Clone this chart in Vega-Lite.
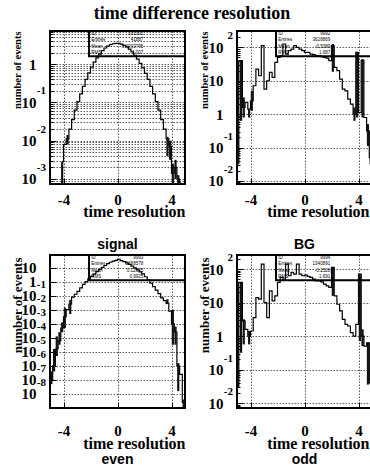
{
  "$schema": "https://vega.github.io/schema/vega-lite/v6.json",
  "background": "white",
  "padding": {"left": 9, "top": 5, "right": 0, "bottom": 0},
  "title": {"text": "time difference resolution", "font": "Liberation Serif", "fontWeight": "bold", "fontSize": 18, "color": "black", "anchor": "middle", "offset": 0},
  "config": {
    "view": {"stroke": "black", "strokeWidth": 2},
    "axis": {"labelFont": "Liberation Serif", "labelFontWeight": "bold", "labelColor": "black", "labelFontSize": 15, "titleFont": "Liberation Serif", "titleFontWeight": "bold", "titleColor": "black", "titleFontSize": 16, "domain": false, "grid": true, "gridColor": "#333", "gridDash": [1.5, 1.5], "gridWidth": 0.8, "tickColor": "black", "tickWidth": 1, "labelOverlap": false}
  },
  "datasets": {
    "signal": [
      {"x": -4.1, "n": 0.00282, "lo": 0.0007, "hi": 0.00282},
      {"x": -3.9, "n": 0.00794},
      {"x": -3.7, "n": 0.0112, "lo": 0.00794, "hi": 0.0141},
      {"x": -3.5, "n": 0.02},
      {"x": -3.3, "n": 0.0355},
      {"x": -3.1, "n": 0.0631},
      {"x": -2.9, "n": 0.105},
      {"x": -2.7, "n": 0.166},
      {"x": -2.5, "n": 0.263},
      {"x": -2.3, "n": 0.398},
      {"x": -2.1, "n": 0.589},
      {"x": -1.9, "n": 0.832},
      {"x": -1.7, "n": 1.122},
      {"x": -1.5, "n": 1.445},
      {"x": -1.3, "n": 1.82},
      {"x": -1.1, "n": 2.239},
      {"x": -0.9, "n": 2.63},
      {"x": -0.7, "n": 2.951},
      {"x": -0.5, "n": 3.236},
      {"x": -0.3, "n": 3.388},
      {"x": -0.1, "n": 3.467},
      {"x": 0.1, "n": 3.467},
      {"x": 0.3, "n": 3.311},
      {"x": 0.5, "n": 3.09},
      {"x": 0.7, "n": 2.818},
      {"x": 0.9, "n": 2.455},
      {"x": 1.1, "n": 2.089},
      {"x": 1.3, "n": 1.698},
      {"x": 1.5, "n": 1.349},
      {"x": 1.7, "n": 1.047},
      {"x": 1.9, "n": 0.794},
      {"x": 2.1, "n": 0.575},
      {"x": 2.3, "n": 0.398},
      {"x": 2.5, "n": 0.263},
      {"x": 2.7, "n": 0.166},
      {"x": 2.9, "n": 0.105},
      {"x": 3.1, "n": 0.0631},
      {"x": 3.3, "n": 0.0355},
      {"x": 3.5, "n": 0.02},
      {"x": 3.7, "n": 0.0112, "lo": 0.00398, "hi": 0.0126},
      {"x": 3.9, "n": 0.00708, "lo": 0.00316, "hi": 0.01},
      {"x": 4.1, "n": 0.00141, "lo": 0.0007, "hi": 0.00251},
      {"x": 4.3, "n": 0.002, "lo": 0.001, "hi": 0.00316},
      {"x": 4.5, "n": 0.001, "lo": 0.0007, "hi": 0.00126},
      {"x": 4.7, "n": 0.000794}
    ],
    "bg": [
      {"x": -4.9, "n": 39.8, "lo": 0.0316, "hi": 39.8},
      {"x": -4.7, "n": 39.8, "lo": 0.631, "hi": 39.8},
      {"x": -4.5, "n": 1.585, "lo": 0.794, "hi": 3.16},
      {"x": -4.3, "n": 2.239},
      {"x": -4.1, "n": 1.413, "lo": 0.794, "hi": 1.413},
      {"x": -3.9, "n": 2.512, "lo": 1.259, "hi": 5.01},
      {"x": -3.7, "n": 7.08},
      {"x": -3.5, "n": 22.4},
      {"x": -3.3, "n": 14.1},
      {"x": -3.1, "n": 112},
      {"x": -2.9, "n": 5.62},
      {"x": -2.7, "n": 10},
      {"x": -2.5, "n": 17.8},
      {"x": -2.3, "n": 12.6},
      {"x": -2.1, "n": 35.5},
      {"x": -1.9, "n": 50.1},
      {"x": -1.7, "n": 56.2},
      {"x": -1.5, "n": 126},
      {"x": -1.3, "n": 63.1},
      {"x": -1.1, "n": 79.4},
      {"x": -0.9, "n": 89.1},
      {"x": -0.7, "n": 112},
      {"x": -0.5, "n": 100},
      {"x": -0.3, "n": 89.1},
      {"x": -0.1, "n": 79.4},
      {"x": 0.1, "n": 70.8},
      {"x": 0.3, "n": 70.8},
      {"x": 0.5, "n": 63.1},
      {"x": 0.7, "n": 60.3},
      {"x": 0.9, "n": 56.2},
      {"x": 1.1, "n": 56.2},
      {"x": 1.3, "n": 52.5},
      {"x": 1.5, "n": 50.1},
      {"x": 1.7, "n": 47.9},
      {"x": 1.9, "n": 39.8},
      {"x": 2.1, "n": 112, "lo": 18.6, "hi": 126},
      {"x": 2.3, "n": 25.1},
      {"x": 2.5, "n": 20},
      {"x": 2.7, "n": 11.2},
      {"x": 2.9, "n": 5.62},
      {"x": 3.1, "n": 5.01},
      {"x": 3.3, "n": 2.818},
      {"x": 3.5, "n": 1.995},
      {"x": 3.7, "n": 1.0, "lo": 0.631, "hi": 1.585},
      {"x": 3.9, "n": 70.8, "lo": 0.794, "hi": 70.8},
      {"x": 4.1, "n": 1.122},
      {"x": 4.3, "n": 39.8, "lo": 0.794, "hi": 44.7},
      {"x": 4.5, "n": 0.794},
      {"x": 4.7, "n": 0.316, "lo": 0.112, "hi": 0.5},
      {"x": 4.9, "n": 0.0501, "lo": 0.0316, "hi": 0.158}
    ],
    "even": [
      {"x": -4.9, "n": 1e-7, "lo": 5e-8, "hi": 4e-7},
      {"x": -4.7, "n": 1e-6, "lo": 4e-7, "hi": 1.6e-5},
      {"x": -4.5, "n": 1.6e-5, "lo": 5e-6, "hi": 1.26e-4},
      {"x": -4.3, "n": 6.3e-5, "lo": 3.2e-5, "hi": 2.5e-4},
      {"x": -4.1, "n": 5e-4, "lo": 2.5e-4, "hi": 1.26e-3},
      {"x": -3.9, "n": 3.16e-3, "lo": 5e-4, "hi": 1.4e-2},
      {"x": -3.7, "n": 0.01},
      {"x": -3.5, "n": 0.0251, "lo": 0.005, "hi": 0.05},
      {"x": -3.3, "n": 0.0794},
      {"x": -3.1, "n": 0.126},
      {"x": -2.9, "n": 0.2},
      {"x": -2.7, "n": 0.355},
      {"x": -2.5, "n": 0.631},
      {"x": -2.3, "n": 1.0},
      {"x": -2.1, "n": 1.585},
      {"x": -1.9, "n": 2.399},
      {"x": -1.7, "n": 3.548},
      {"x": -1.5, "n": 5.248},
      {"x": -1.3, "n": 7.586},
      {"x": -1.1, "n": 10.47},
      {"x": -0.9, "n": 14.13},
      {"x": -0.7, "n": 19.05},
      {"x": -0.5, "n": 23.99},
      {"x": -0.3, "n": 28.84},
      {"x": -0.1, "n": 33.11},
      {"x": 0.1, "n": 38.9},
      {"x": 0.3, "n": 31.62},
      {"x": 0.5, "n": 26.3},
      {"x": 0.7, "n": 21.38},
      {"x": 0.9, "n": 16.6},
      {"x": 1.1, "n": 12.59},
      {"x": 1.3, "n": 9.55},
      {"x": 1.5, "n": 6.918},
      {"x": 1.7, "n": 5.012},
      {"x": 1.9, "n": 3.548},
      {"x": 2.1, "n": 2.239},
      {"x": 2.3, "n": 1.318},
      {"x": 2.5, "n": 0.794},
      {"x": 2.7, "n": 0.447},
      {"x": 2.9, "n": 0.251},
      {"x": 3.1, "n": 0.141},
      {"x": 3.3, "n": 0.0708},
      {"x": 3.5, "n": 0.0447},
      {"x": 3.7, "n": 0.0282, "lo": 0.0251, "hi": 0.055},
      {"x": 3.9, "n": 0.0079},
      {"x": 4.1, "n": 0.001, "lo": 3.2e-5, "hi": 0.01},
      {"x": 4.3, "n": 2.5e-4, "lo": 3.2e-5, "hi": 6.3e-4},
      {"x": 4.5, "n": 1e-6, "lo": 1.6e-8, "hi": 1.6e-6},
      {"x": 4.7, "n": 2.5e-7},
      {"x": 4.9, "n": 2.5e-9, "lo": 1e-9, "hi": 4e-9}
    ],
    "odd": [
      {"x": -4.9, "n": 39.8, "lo": 0.0282, "hi": 39.8},
      {"x": -4.7, "n": 39.8, "lo": 0.316, "hi": 39.8},
      {"x": -4.5, "n": 2.818, "lo": 0.562, "hi": 3.16},
      {"x": -4.3, "n": 1.585},
      {"x": -4.1, "n": 1.0, "lo": 0.562, "hi": 1.413},
      {"x": -3.9, "n": 1.413},
      {"x": -3.7, "n": 3.548},
      {"x": -3.5, "n": 14.1},
      {"x": -3.3, "n": 12.6},
      {"x": -3.1, "n": 141},
      {"x": -2.9, "n": 10},
      {"x": -2.7, "n": 3.548},
      {"x": -2.5, "n": 22.4},
      {"x": -2.3, "n": 11.2},
      {"x": -2.1, "n": 15.8},
      {"x": -1.9, "n": 39.8},
      {"x": -1.7, "n": 56.2},
      {"x": -1.5, "n": 50.1},
      {"x": -1.3, "n": 141},
      {"x": -1.1, "n": 63.1},
      {"x": -0.9, "n": 79.4},
      {"x": -0.7, "n": 70.8},
      {"x": -0.5, "n": 141},
      {"x": -0.3, "n": 70.8},
      {"x": -0.1, "n": 63.1},
      {"x": 0.1, "n": 66.1},
      {"x": 0.3, "n": 60.3},
      {"x": 0.5, "n": 56.2},
      {"x": 0.7, "n": 50.1},
      {"x": 0.9, "n": 44.7},
      {"x": 1.1, "n": 44.7},
      {"x": 1.3, "n": 41.7},
      {"x": 1.5, "n": 35.5},
      {"x": 1.7, "n": 31.6},
      {"x": 1.9, "n": 28.2},
      {"x": 2.1, "n": 112, "lo": 15.8, "hi": 112},
      {"x": 2.3, "n": 15.8},
      {"x": 2.5, "n": 8.91},
      {"x": 2.7, "n": 5.62},
      {"x": 2.9, "n": 3.162},
      {"x": 3.1, "n": 2.239},
      {"x": 3.3, "n": 1.995},
      {"x": 3.5, "n": 1.259},
      {"x": 3.7, "n": 1.0},
      {"x": 3.9, "n": 2.239},
      {"x": 4.1, "n": 70.8, "lo": 0.708, "hi": 70.8},
      {"x": 4.3, "n": 1.0, "lo": 0.5, "hi": 1.585},
      {"x": 4.5, "n": 0.501},
      {"x": 4.7, "n": 0.631, "lo": 0.0355, "hi": 0.631},
      {"x": 4.9, "n": 0.0398}
    ],
    "exp": [
      {"p": "signal", "n": 0.1, "e": "-1"},
      {"p": "signal", "n": 0.01, "e": "-2"},
      {"p": "signal", "n": 0.001, "e": "-3"},
      {"p": "bg", "n": 100, "e": "2"},
      {"p": "bg", "n": 0.1, "e": "-1"},
      {"p": "bg", "n": 0.01, "e": "-2"},
      {"p": "even", "n": 0.1, "e": "-1"},
      {"p": "even", "n": 0.01, "e": "-2"},
      {"p": "even", "n": 0.001, "e": "-3"},
      {"p": "even", "n": 0.0001, "e": "-4"},
      {"p": "even", "n": 0.00001, "e": "-5"},
      {"p": "even", "n": 0.000001, "e": "-6"},
      {"p": "even", "n": 0.0000001, "e": "-7"},
      {"p": "even", "n": 0.00000001, "e": "-8"},
      {"p": "odd", "n": 100, "e": "2"},
      {"p": "odd", "n": 0.1, "e": "-1"},
      {"p": "odd", "n": 0.01, "e": "-2"}
    ],
    "stats": [
      {"p": "signal", "i": 1, "k": "ID", "v": "101001"},
      {"p": "signal", "i": 2, "k": "Entries", "v": "41887"},
      {"p": "signal", "i": 3, "k": "Mean", "v": "0.0003795"},
      {"p": "signal", "i": 4, "k": "RMS", "v": "1.007"},
      {"p": "bg", "i": 1, "k": "ID", "v": "9992"},
      {"p": "bg", "i": 2, "k": "Entries", "v": "3628869"},
      {"p": "bg", "i": 3, "k": "Mean", "v": "-0.5089"},
      {"p": "bg", "i": 4, "k": "RMS", "v": "1.687"},
      {"p": "even", "i": 1, "k": "ID", "v": "9993"},
      {"p": "even", "i": 2, "k": "Entries", "v": "2488578"},
      {"p": "even", "i": 3, "k": "Mean", "v": "0.12635"},
      {"p": "even", "i": 4, "k": "RMS", "v": "0.9925"},
      {"p": "odd", "i": 1, "k": "ID", "v": "9994"},
      {"p": "odd", "i": 2, "k": "Entries", "v": "1340891"},
      {"p": "odd", "i": 3, "k": "Mean", "v": "-0.2528"},
      {"p": "odd", "i": 4, "k": "RMS", "v": "1.691"}
    ]
  },
  "concat": [
    {
      "width": 135, "height": 153,
      "title": {"text": "signal", "orient": "bottom", "font": "Liberation Sans", "fontWeight": "bold", "fontSize": 14, "color": "black", "offset": 19},
      "layer": [
        {
          "data": {"name": "signal"},
          "layer": [
            {"mark": {"type": "line", "interpolate": "step", "color": "black", "strokeWidth": 1.2, "clip": true},
             "encoding": {
               "x": {"field": "x", "type": "quantitative", "scale": {"domain": [-5, 5], "nice": false, "zero": false},
                     "axis": {"values": [-4, -2, 0, 2, 4], "labelExpr": "'' + datum.value", "labelPadding": 14, "tickSize": -6,
                              "title": "time resolution", "titleAnchor": "end", "titleAlign": "right", "titleBaseline": "alphabetic", "titleY": 32}},
               "y": {"field": "n", "type": "quantitative", "scale": {"type": "log", "domain": [0.00074, 7.3], "nice": false},
                     "axis": {"values": [0.0008, 0.0009, 0.001, 0.002, 0.003, 0.004, 0.005, 0.006, 0.007, 0.008, 0.009, 0.01, 0.02, 0.03, 0.04, 0.05, 0.06, 0.07, 0.08, 0.09, 0.1, 0.2, 0.3, 0.4, 0.5, 0.6, 0.7, 0.8, 0.9, 1, 2, 3, 4, 5, 6, 7],
                              "labelExpr": "datum.value == 1 ? '1' : (abs(log(datum.value)/LN10 - round(log(datum.value)/LN10)) < 0.001 ? '10' : '')",
                              "labelPadding": 20,
                              "tickSize": {"condition": {"test": "abs(log(datum.value)/LN10 - round(log(datum.value)/LN10)) < 0.001", "value": -6}, "value": -3},
                              "title": "number of events", "titleFontSize": 10.5, "titleX": -33, "titleY": 0, "titleAngle": -90, "titleAlign": "right", "titleBaseline": "middle"}}
             }},
            {"transform": [{"filter": "isValid(datum.lo)"}],
             "mark": {"type": "rule", "color": "#111", "strokeWidth": 2.2, "clip": true},
             "encoding": {"x": {"field": "x", "type": "quantitative"}, "y": {"field": "lo", "type": "quantitative"}, "y2": {"field": "hi"}}},
            {"data": {"name": "exp"}, "transform": [{"filter": "datum.p == 'signal'"}],
             "mark": {"type": "text", "align": "right", "baseline": "middle", "dx": -4, "dy": -11, "font": "Liberation Serif", "fontWeight": "bold", "fontSize": 11, "color": "black"},
             "encoding": {"x": {"datum": -5, "type": "quantitative"}, "y": {"field": "n", "type": "quantitative"}, "text": {"field": "e"}}}
          ]
        },
        {
          "data": {"name": "stats"},
          "transform": [{"filter": "datum.p == 'signal'"}],
          "layer": [
            {"data": {"values": [{"b": 1}]},
             "mark": {"type": "rect", "fill": "transparent", "stroke": "black", "strokeWidth": 2},
             "encoding": {"x": {"datum": 0.289, "type": "quantitative", "scale": {"domain": [0, 1], "nice": false, "zero": false}, "axis": null}, "x2": {"datum": 1},
                          "y": {"datum": 0.5, "type": "quantitative", "scale": {"domain": [0.5, 24.74], "reverse": true, "nice": false, "zero": false}, "axis": null}, "y2": {"datum": 4.5}}},
            {"mark": {"type": "text", "align": "left", "baseline": "middle", "font": "Liberation Sans", "fontSize": 4.5, "color": "black"},
             "encoding": {"x": {"datum": 0.305, "type": "quantitative"}, "y": {"field": "i", "type": "quantitative"}, "text": {"field": "k"}}},
            {"mark": {"type": "text", "align": "right", "baseline": "middle", "font": "Liberation Sans", "fontSize": 4.5, "color": "black"},
             "encoding": {"x": {"datum": 0.69, "type": "quantitative"}, "y": {"field": "i", "type": "quantitative"}, "text": {"field": "v"}}}
          ]
        }
      ],
      "resolve": {"scale": {"x": "independent", "y": "independent"}}
    },
    {
      "width": 135, "height": 153,
      "title": {"text": "BG", "orient": "bottom", "font": "Liberation Sans", "fontWeight": "bold", "fontSize": 14, "color": "black", "offset": 19},
      "layer": [
        {
          "data": {"name": "bg"},
          "layer": [
            {"mark": {"type": "line", "interpolate": "step", "color": "black", "strokeWidth": 1.2, "clip": true},
             "encoding": {
               "x": {"field": "x", "type": "quantitative", "scale": {"domain": [-5, 5], "nice": false, "zero": false},
                     "axis": {"values": [-4, -2, 0, 2, 4], "labelExpr": "'' + datum.value", "labelPadding": 14, "tickSize": -6,
                              "title": "time resolution", "titleAnchor": "end", "titleAlign": "right", "titleBaseline": "alphabetic", "titleY": 32, "titleX": 132}},
               "y": {"field": "n", "type": "quantitative", "scale": {"type": "log", "domain": [0.0081, 309], "nice": false},
                     "axis": {"values": [0.009, 0.01, 0.02, 0.03, 0.04, 0.05, 0.06, 0.07, 0.08, 0.09, 0.1, 0.2, 0.3, 0.4, 0.5, 0.6, 0.7, 0.8, 0.9, 1, 2, 3, 4, 5, 6, 7, 8, 9, 10, 20, 30, 40, 50, 60, 70, 80, 90, 100, 200, 300],
                              "labelExpr": "datum.value == 1 ? '1' : (abs(log(datum.value)/LN10 - round(log(datum.value)/LN10)) < 0.001 ? '10' : '')",
                              "labelPadding": 20,
                              "gridOpacity": {"condition": {"test": "abs(log(datum.value)/LN10 - round(log(datum.value)/LN10)) < 0.001", "value": 1}, "value": 0},
                              "tickSize": {"condition": {"test": "abs(log(datum.value)/LN10 - round(log(datum.value)/LN10)) < 0.001", "value": -6}, "value": -3},
                              "title": "number of events", "titleFontSize": 10.5, "titleX": -33, "titleY": 0, "titleAngle": -90, "titleAlign": "right", "titleBaseline": "middle"}}
             }},
            {"transform": [{"filter": "isValid(datum.lo)"}],
             "mark": {"type": "rule", "color": "#111", "strokeWidth": 2.2, "clip": true},
             "encoding": {"x": {"field": "x", "type": "quantitative"}, "y": {"field": "lo", "type": "quantitative"}, "y2": {"field": "hi"}}},
            {"data": {"name": "exp"}, "transform": [{"filter": "datum.p == 'bg'"}],
             "mark": {"type": "text", "align": "right", "baseline": "middle", "dx": -4, "dy": -11, "font": "Liberation Serif", "fontWeight": "bold", "fontSize": 11, "color": "black"},
             "encoding": {"x": {"datum": -5, "type": "quantitative"}, "y": {"field": "n", "type": "quantitative"}, "text": {"field": "e"}}}
          ]
        },
        {
          "data": {"name": "stats"},
          "transform": [{"filter": "datum.p == 'bg'"}],
          "layer": [
            {"data": {"values": [{"b": 1}]},
             "mark": {"type": "rect", "fill": "transparent", "stroke": "black", "strokeWidth": 2},
             "encoding": {"x": {"datum": 0.289, "type": "quantitative", "scale": {"domain": [0, 1], "nice": false, "zero": false}, "axis": null}, "x2": {"datum": 1},
                          "y": {"datum": 0.5, "type": "quantitative", "scale": {"domain": [0.5, 24.74], "reverse": true, "nice": false, "zero": false}, "axis": null}, "y2": {"datum": 4.5}}},
            {"mark": {"type": "text", "align": "left", "baseline": "middle", "font": "Liberation Sans", "fontSize": 4.5, "color": "black"},
             "encoding": {"x": {"datum": 0.305, "type": "quantitative"}, "y": {"field": "i", "type": "quantitative"}, "text": {"field": "k"}}},
            {"mark": {"type": "text", "align": "right", "baseline": "middle", "font": "Liberation Sans", "fontSize": 4.5, "color": "black"},
             "encoding": {"x": {"datum": 0.69, "type": "quantitative"}, "y": {"field": "i", "type": "quantitative"}, "text": {"field": "v"}}}
          ]
        }
      ],
      "resolve": {"scale": {"x": "independent", "y": "independent"}}
    },
    {
      "width": 135, "height": 153,
      "title": {"text": "even", "orient": "bottom", "font": "Liberation Sans", "fontWeight": "bold", "fontSize": 14, "color": "black", "offset": 2},
      "layer": [
        {
          "data": {"name": "even"},
          "layer": [
            {"mark": {"type": "line", "interpolate": "step", "color": "black", "strokeWidth": 1.2, "clip": true},
             "encoding": {
               "x": {"field": "x", "type": "quantitative", "scale": {"domain": [-5, 5], "nice": false, "zero": false},
                     "axis": {"values": [-4, -2, 0, 2, 4], "labelExpr": "'' + datum.value", "labelPadding": 21, "tickSize": -6,
                              "title": "time resolution", "titleAnchor": "end", "titleAlign": "right", "titleBaseline": "alphabetic", "titleY": 40}},
               "y": {"field": "n", "type": "quantitative", "scale": {"type": "log", "domain": [1e-9, 79], "nice": false},
                     "axis": {"values": [1e-8, 1e-7, 1e-6, 1e-5, 0.0001, 0.001, 0.01, 0.1, 1, 10],
                              "labelExpr": "datum.value == 1 ? '1' : '10'",
                              "labelPadding": 20,
                              "tickSize": -6,
                              "title": "number of events", "titleFontSize": 13, "titleX": -33, "titleY": 2, "titleAngle": -90, "titleAlign": "right", "titleBaseline": "middle"}}
             }},
            {"transform": [{"filter": "isValid(datum.lo)"}],
             "mark": {"type": "rule", "color": "#111", "strokeWidth": 2.2, "clip": true},
             "encoding": {"x": {"field": "x", "type": "quantitative"}, "y": {"field": "lo", "type": "quantitative"}, "y2": {"field": "hi"}}},
            {"data": {"name": "exp"}, "transform": [{"filter": "datum.p == 'even'"}],
             "mark": {"type": "text", "align": "right", "baseline": "middle", "dx": -4, "dy": -11, "font": "Liberation Serif", "fontWeight": "bold", "fontSize": 11, "color": "black"},
             "encoding": {"x": {"datum": -5, "type": "quantitative"}, "y": {"field": "n", "type": "quantitative"}, "text": {"field": "e"}}}
          ]
        },
        {
          "data": {"name": "stats"},
          "transform": [{"filter": "datum.p == 'even'"}],
          "layer": [
            {"data": {"values": [{"b": 1}]},
             "mark": {"type": "rect", "fill": "transparent", "stroke": "black", "strokeWidth": 2},
             "encoding": {"x": {"datum": 0.289, "type": "quantitative", "scale": {"domain": [0, 1], "nice": false, "zero": false}, "axis": null}, "x2": {"datum": 1},
                          "y": {"datum": 0.5, "type": "quantitative", "scale": {"domain": [0.5, 24.74], "reverse": true, "nice": false, "zero": false}, "axis": null}, "y2": {"datum": 4.5}}},
            {"mark": {"type": "text", "align": "left", "baseline": "middle", "font": "Liberation Sans", "fontSize": 4.5, "color": "black"},
             "encoding": {"x": {"datum": 0.305, "type": "quantitative"}, "y": {"field": "i", "type": "quantitative"}, "text": {"field": "k"}}},
            {"mark": {"type": "text", "align": "right", "baseline": "middle", "font": "Liberation Sans", "fontSize": 4.5, "color": "black"},
             "encoding": {"x": {"datum": 0.69, "type": "quantitative"}, "y": {"field": "i", "type": "quantitative"}, "text": {"field": "v"}}}
          ]
        }
      ],
      "resolve": {"scale": {"x": "independent", "y": "independent"}}
    },
    {
      "width": 135, "height": 153,
      "title": {"text": "odd", "orient": "bottom", "font": "Liberation Sans", "fontWeight": "bold", "fontSize": 14, "color": "black", "offset": 2},
      "layer": [
        {
          "data": {"name": "odd"},
          "layer": [
            {"mark": {"type": "line", "interpolate": "step", "color": "black", "strokeWidth": 1.2, "clip": true},
             "encoding": {
               "x": {"field": "x", "type": "quantitative", "scale": {"domain": [-5, 5], "nice": false, "zero": false},
                     "axis": {"values": [-4, -2, 0, 2, 4], "labelExpr": "'' + datum.value", "labelPadding": 21, "tickSize": -6,
                              "title": "time resolution", "titleAnchor": "end", "titleAlign": "right", "titleBaseline": "alphabetic", "titleY": 40, "titleX": 132}},
               "y": {"field": "n", "type": "quantitative", "scale": {"type": "log", "domain": [0.0071, 263], "nice": false},
                     "axis": {"values": [0.008, 0.009, 0.01, 0.02, 0.03, 0.04, 0.05, 0.06, 0.07, 0.08, 0.09, 0.1, 0.2, 0.3, 0.4, 0.5, 0.6, 0.7, 0.8, 0.9, 1, 2, 3, 4, 5, 6, 7, 8, 9, 10, 20, 30, 40, 50, 60, 70, 80, 90, 100, 200],
                              "labelExpr": "datum.value == 1 ? '1' : (abs(log(datum.value)/LN10 - round(log(datum.value)/LN10)) < 0.001 ? '10' : '')",
                              "labelPadding": 20,
                              "gridOpacity": {"condition": {"test": "abs(log(datum.value)/LN10 - round(log(datum.value)/LN10)) < 0.001", "value": 1}, "value": 0},
                              "tickSize": {"condition": {"test": "abs(log(datum.value)/LN10 - round(log(datum.value)/LN10)) < 0.001", "value": -6}, "value": -3},
                              "title": "number of events", "titleFontSize": 13, "titleX": -33, "titleY": 2, "titleAngle": -90, "titleAlign": "right", "titleBaseline": "middle"}}
             }},
            {"transform": [{"filter": "isValid(datum.lo)"}],
             "mark": {"type": "rule", "color": "#111", "strokeWidth": 2.2, "clip": true},
             "encoding": {"x": {"field": "x", "type": "quantitative"}, "y": {"field": "lo", "type": "quantitative"}, "y2": {"field": "hi"}}},
            {"data": {"name": "exp"}, "transform": [{"filter": "datum.p == 'odd'"}],
             "mark": {"type": "text", "align": "right", "baseline": "middle", "dx": -4, "dy": -11, "font": "Liberation Serif", "fontWeight": "bold", "fontSize": 11, "color": "black"},
             "encoding": {"x": {"datum": -5, "type": "quantitative"}, "y": {"field": "n", "type": "quantitative"}, "text": {"field": "e"}}}
          ]
        },
        {
          "data": {"name": "stats"},
          "transform": [{"filter": "datum.p == 'odd'"}],
          "layer": [
            {"data": {"values": [{"b": 1}]},
             "mark": {"type": "rect", "fill": "transparent", "stroke": "black", "strokeWidth": 2},
             "encoding": {"x": {"datum": 0.289, "type": "quantitative", "scale": {"domain": [0, 1], "nice": false, "zero": false}, "axis": null}, "x2": {"datum": 1},
                          "y": {"datum": 0.5, "type": "quantitative", "scale": {"domain": [0.5, 24.74], "reverse": true, "nice": false, "zero": false}, "axis": null}, "y2": {"datum": 4.5}}},
            {"mark": {"type": "text", "align": "left", "baseline": "middle", "font": "Liberation Sans", "fontSize": 4.5, "color": "black"},
             "encoding": {"x": {"datum": 0.305, "type": "quantitative"}, "y": {"field": "i", "type": "quantitative"}, "text": {"field": "k"}}},
            {"mark": {"type": "text", "align": "right", "baseline": "middle", "font": "Liberation Sans", "fontSize": 4.5, "color": "black"},
             "encoding": {"x": {"datum": 0.69, "type": "quantitative"}, "y": {"field": "i", "type": "quantitative"}, "text": {"field": "v"}}}
          ]
        }
      ],
      "resolve": {"scale": {"x": "independent", "y": "independent"}}
    }
  ],
  "columns": 2,
  "spacing": {"row": 71, "column": 52},
  "bounds": "flush"
}
